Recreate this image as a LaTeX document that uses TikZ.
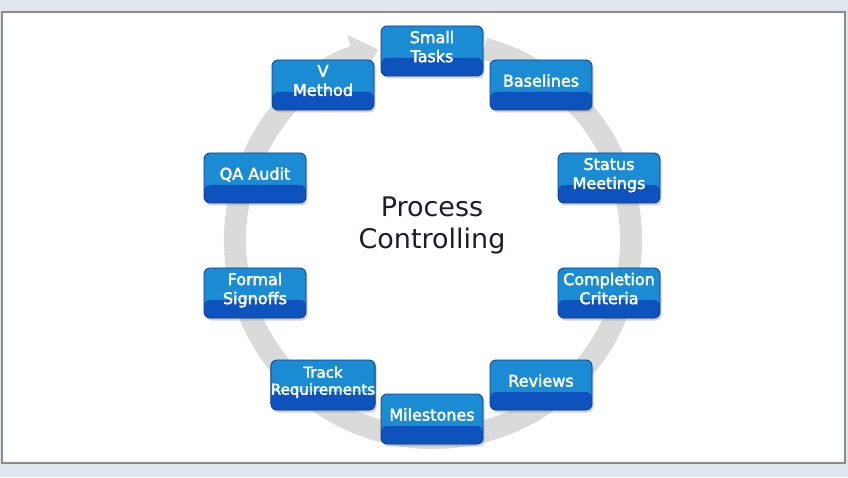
\documentclass[tikz,border=0pt]{standalone}
\usepackage{fontspec}
\setmainfont{DejaVu Sans}
\newfontfamily\taskfont{DejaVu Sans}[BoldFont={DejaVu Sans},BoldFeatures={FakeBold=2.5}]
\usetikzlibrary{arrows.meta,shadows}
\definecolor{pagebg}{HTML}{DFE6EE}
\definecolor{panelline}{HTML}{8C8C8C}
\definecolor{ringgray}{HTML}{DADADA}
\definecolor{tasklight}{HTML}{1B8BD4}
\definecolor{taskdark}{HTML}{0E52BE}
\definecolor{taskedge}{HTML}{0B3C8C}
\definecolor{titlenavy}{HTML}{1A1E30}
\tikzset{
  task/.style={draw=taskedge,line width=0.8pt,fill=tasklight,rounded corners=6pt,
    minimum width=102pt,minimum height=50pt,inner sep=0pt,text=white,align=center,
    text depth=9pt,
    font=\taskfont\bfseries\fontsize{16}{19}\selectfont,
    drop shadow={shadow xshift=1.5pt,shadow yshift=-2.5pt,opacity=0.35},
    path picture={\fill[taskdark] (path picture bounding box.south west)
      rectangle ([yshift=18pt]path picture bounding box.south east);}},
  ring/.style={ringgray,line width=22pt,-{Triangle[width=44pt,length=26pt]}}
}

\begin{document}
\begin{tikzpicture}[x=1pt,y=1pt]
% frame
\fill[pagebg] (0,0) rectangle (848,477);
\draw[panelline,line width=1.2pt,fill=white] (2,14) rectangle (845,465);
% cycle ring
\coordinate (C) at (433,237);
\draw[ring] ([shift={(75:198)}]C) arc[start angle=75,end angle=-254,radius=198];
% steps
\node[task] (small) at (432,426) {Small\\Tasks};
\node[task] (base) at (541,392) {Baselines};
\node[task] (status) at (609,299) {Status\\Meetings};
\node[task] (compl) at (609,184) {Completion\\Criteria};
\node[task] (review) at (541,92) {Reviews};
\node[task] (miles) at (432,58) {Milestones};
\node[task,font=\taskfont\bfseries\fontsize{15}{17}\selectfont] (track) at (323,92) {Track\\Requirements};
\node[task] (signoff) at (255,184) {Formal\\Signoffs};
\node[task] (qa) at (255,299) {QA Audit};
\node[task] (vmeth) at (323,392) {V\\Method};
% title
\node[text=titlenavy,align=center,font=\fontsize{27}{32}\selectfont] (title) at (432,252) {Process\\Controlling};
\end{tikzpicture}
\end{document}
